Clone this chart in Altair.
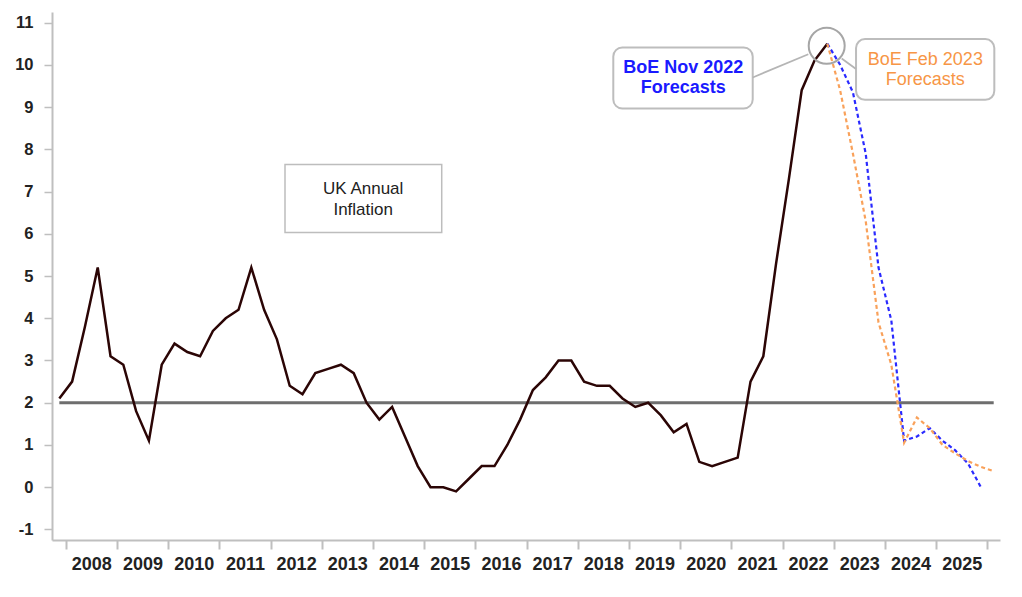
import altair as alt
import pandas as pd

# ---- data ----
actual_start = "2007Q4"
actual_vals = [2.1,
               2.5, 3.8, 5.2, 3.1,
               2.9, 1.8, 1.1, 2.9,
               3.4, 3.2, 3.1, 3.7,
               4.0, 4.2, 5.2, 4.2,
               3.5, 2.4, 2.2, 2.7,
               2.8, 2.9, 2.7, 2.0,
               1.6, 1.9, 1.2, 0.5,
               0.0, 0.0, -0.1, 0.2,
               0.5, 0.5, 1.0, 1.6,
               2.3, 2.6, 3.0, 3.0,
               2.5, 2.4, 2.4, 2.1,
               1.9, 2.0, 1.7, 1.3,
               1.5, 0.6, 0.5, 0.6,
               0.7, 2.5, 3.1, 5.3,
               7.3, 9.4, 10.1, 10.5]
nov_start = "2022Q4"
nov_vals = [10.5, 10.0, 9.35, 7.9, 5.2, 3.95, 1.1, 1.2, 1.4, 1.1, 0.87, 0.56, 0.0]
feb_start = "2022Q4"
feb_vals = [10.5, 9.4, 7.9, 6.3, 3.9, 2.9, 1.05, 1.65, 1.4, 1.0, 0.8, 0.62, 0.48, 0.38]
target_rate = 2.0
target_span = ["2007Q4", "2026Q1"]
year_ticks = list(range(2008, 2027))
y_ticks = list(range(-1, 12))


def qpos(label):
    y, q = label.split("Q")
    return int(y) + (int(q) - 0.5) / 4.0


def series(start, vals):
    t0 = qpos(start)
    return pd.DataFrame({"t": [t0 + 0.25 * i for i in range(len(vals))], "v": vals})


df_act = series(actual_start, actual_vals)
df_nov = series(nov_start, nov_vals)
df_feb = series(feb_start, feb_vals)
df_rule = pd.DataFrame({"t": [qpos(target_span[0])], "t2": [qpos(target_span[1])], "v": [target_rate]})

# annotation boxes / texts (data coordinates)
boxes = pd.DataFrame({
    "x": [2012.283, 2018.695, 2023.436],
    "x2": [2015.344, 2021.418, 2026.137],
    "y": [7.64, 10.41, 10.61],
    "y2": [6.03, 8.965, 9.17],
    "kind": ["plain", "round", "round"],
})
texts = pd.DataFrame({
    "x": [2013.81, 2013.81, 2020.06, 2020.06, 2024.79, 2024.79],
    "y": [7.05, 6.56, 9.92, 9.44, 10.12, 9.64],
    "label": ["UK Annual", "Inflation", "BoE Nov 2022", "Forecasts", "BoE Feb 2023", "Forecasts"],
    "grp": ["uk", "uk", "nov", "nov", "feb", "feb"],
})
connectors = pd.DataFrame({
    "x": [2021.418, 2023.156],
    "x2": [2022.504, 2023.436],
    "y": [9.70, 10.15],
    "y2": [10.25, 9.90],
})
circle = pd.DataFrame({"t": [2022.863], "v": [10.45]})

FONT = "Liberation Sans"
xs = alt.Scale(domain=[2007.732, 2026.248], nice=False, zero=False)
ys = alt.Scale(domain=[-1.25, 11.25], nice=False, zero=False)

X = alt.X("t:Q", scale=xs, axis=alt.Axis(
    values=year_ticks, format="d", title=None, grid=False,
    labelExpr="datum.value == 2026 ? '' : datum.label",
    labelOffset=25.6, labelPadding=6, labelFontSize=18, labelFontWeight="bold",
    labelColor="#222222", labelFont=FONT, tickSize=9, tickWidth=2, tickColor="#bfbfbf",
    domainColor="#bfbfbf", domainWidth=2, labelFlush=False, labelOverlap=False))
Y = alt.Y("v:Q", scale=ys, axis=alt.Axis(
    values=y_ticks, title=None, grid=False, labelFontSize=16.5, labelFontWeight="bold",
    labelExpr="datum.value < 0 ? '-' + abs(datum.value) : datum.label",
    labelColor="#222222", labelFont=FONT, tickSize=8, tickWidth=1.5, tickColor="#bfbfbf",
    labelPadding=11, domainColor="#bfbfbf", domainWidth=2))

rule = alt.Chart(df_rule).mark_rule(color="#6e6e6e", strokeWidth=3).encode(
    x=X, x2="t2:Q", y=Y)
act = alt.Chart(df_act).mark_line(color="#2b0505", strokeWidth=2.5).encode(x=X, y=Y)
nov = alt.Chart(df_nov).mark_line(color="#2a2aff", strokeWidth=2.2, strokeDash=[4, 3]).encode(x=X, y=Y)
feb = alt.Chart(df_feb).mark_line(color="#f9a15a", strokeWidth=2.2, strokeDash=[4, 3]).encode(x=X, y=Y)

box_plain = alt.Chart(boxes[boxes.kind == "plain"]).mark_rect(
    fill="white", stroke="#bdbdbd", strokeWidth=1.5).encode(
    x=alt.X("x:Q", scale=xs), x2="x2:Q", y=alt.Y("y:Q", scale=ys), y2="y2:Q")
box_round = alt.Chart(boxes[boxes.kind == "round"]).mark_rect(
    fill="white", stroke="#bdbdbd", strokeWidth=2, cornerRadius=9).encode(
    x=alt.X("x:Q", scale=xs), x2="x2:Q", y=alt.Y("y:Q", scale=ys), y2="y2:Q")

conn = alt.Chart(connectors).mark_rule(color="#b5b5b5", strokeWidth=1.8).encode(
    x=alt.X("x:Q", scale=xs), x2="x2:Q", y=alt.Y("y:Q", scale=ys), y2="y2:Q")
circ = alt.Chart(circle).mark_point(shape="circle", size=1296, filled=False,
                                    color="#a6a6a6", strokeWidth=2, opacity=1).encode(x=X, y=Y)

txt_uk = alt.Chart(texts[texts.grp == "uk"]).mark_text(
    font=FONT, fontSize=17, color="#222222", align="center", baseline="middle").encode(
    x=alt.X("x:Q", scale=xs), y=alt.Y("y:Q", scale=ys), text="label:N")
txt_nov = alt.Chart(texts[texts.grp == "nov"]).mark_text(
    font=FONT, fontSize=18, fontWeight="bold", color="#1a1aff", align="center", baseline="middle").encode(
    x=alt.X("x:Q", scale=xs), y=alt.Y("y:Q", scale=ys), text="label:N")
txt_feb = alt.Chart(texts[texts.grp == "feb"]).mark_text(
    font=FONT, fontSize=18, color="#f79646", align="center", baseline="middle").encode(
    x=alt.X("x:Q", scale=xs), y=alt.Y("y:Q", scale=ys), text="label:N")

chart = alt.layer(
    rule, act, nov, feb, box_plain, box_round, conn, circ, txt_uk, txt_nov, txt_feb
).properties(
    width=948, height=528,
    autosize=alt.AutoSizeParams(type="none"),
    padding={"left": 44, "top": 4, "right": 14, "bottom": 45},
).configure(background="white", view=alt.ViewConfig(stroke=None))

chart.save("out.html", embed_options={"renderer": "svg", "actions": False})
